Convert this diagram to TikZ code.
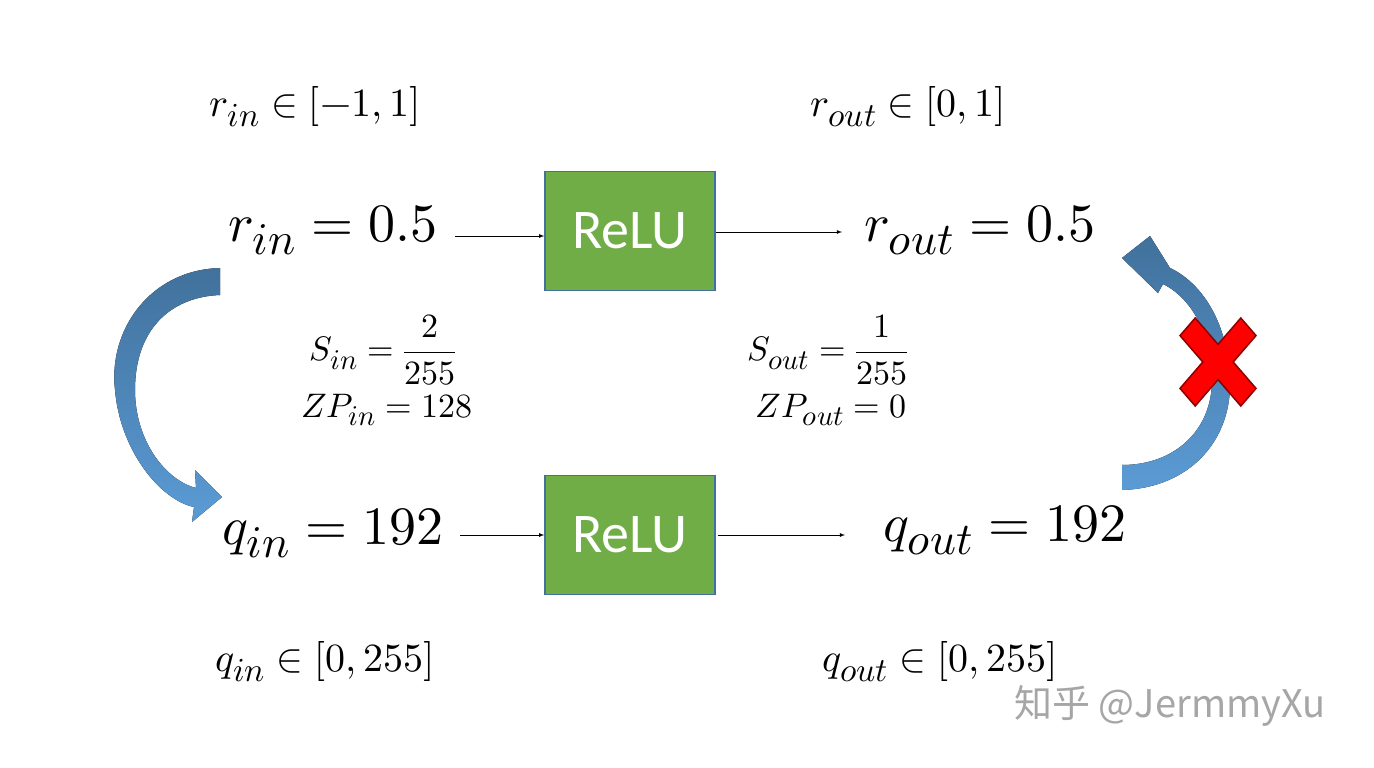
\documentclass[tikz,border=0pt]{standalone}
\usepackage{fontspec}
\usepackage{unicode-math}
\newfontfamily\relufont{Carlito}
\newfontfamily\cjkfont{Noto Sans CJK SC}
\newcommand{\sbx}[1]{_{\scalebox{1.2}{$\scriptstyle #1$}}}
\begin{document}
\begin{tikzpicture}[x=1pt,y=-1pt,
  big/.style={font=\fontsize{54}{60}\selectfont},
  mid/.style={font=\fontsize{40}{44}\selectfont},
  sm/.style={font=\fontsize{34}{38}\selectfont, align=center},
  box/.style={draw={rgb,255:red,65;green,113;blue,156}, line width=1.5pt, fill={rgb,255:red,112;green,173;blue,71}, minimum width=170pt, minimum height=119pt, text=white, font=\relufont\fontsize{56}{60}\selectfont},
  arr/.style={-latex, line width=0.8pt},
  band/.style={top color={rgb,255:red,65;green,113;blue,156}, bottom color={rgb,255:red,91;green,155;blue,213}, draw=none}]
\useasboundingbox[fill=white] (0,0) rectangle (1374,768);
\node[mid] (rinr) at (315,107) {$r\sbx{in}\in[-1,1]$};
\node[mid] (routr) at (908,107) {$r\sbx{out}\in[0,1]$};
\node[big] (rin) at (333,230) {$r\sbx{in}=0.5$};
\node[box] (b1) at (630,231) {ReLU};
\node[big] (rout) at (980,230) {$r\sbx{out}=0.5$};
\draw[arr] (455,236) coordinate (a1) -- (a1 -| b1.west);
\draw[arr] (b1.east)++(0,1) coordinate (a2) -- (842,232) coordinate (a2e);
\node[sm] (sin) at (383,350) {$S\sbx{in}=\displaystyle\frac{2}{255}$};
\node[sm] (zin) at (387,410) {$ZP\sbx{in}=128$};
\node[sm] (sout) at (828,350) {$S\sbx{out}=\displaystyle\frac{1}{255}$};
\node[sm] (zout) at (831,410) {$ZP\sbx{out}=0$};
\node[big] (qin) at (333,533) {$q\sbx{in}=192$};
\node[box] (b2) at (630,535) {ReLU};
\node[big] (qout) at (1005,530) {$q\sbx{out}=192$};
\draw[arr] (460,535) coordinate (a3) -- (a3 -| b2.west);
\draw[arr] (b2.east)++(2,0) coordinate (a4) -- (845,535) coordinate (a4e);
\node[mid] (qinr) at (325,662) {$q\sbx{in}\in[0,255]$};
\node[mid] (qoutr) at (940,662) {$q\sbx{out}\in[0,255]$};
\node[text=black!35, font=\cjkfont\fontsize{38}{42}\selectfont] (wm) at (1170,706) {知乎 @JermmyXu};
\fill[band] (220,268) .. controls (150,270) and (108,330) .. (115,390)
  .. controls (120,450) and (160,500) .. (194,507) -- (192,522) -- (222,497) -- (195,470) -- (196,488)
  .. controls (165,480) and (135,440) .. (135,390) .. controls (135,330) and (170,297) .. (220,295) -- cycle;
\fill[band] (1122,490) .. controls (1190,488) and (1232,440) .. (1230,380)
  .. controls (1228,320) and (1200,282) .. (1170,268) -- (1150,236) -- (1122,258) -- (1158,293) -- (1163,284)
  .. controls (1195,300) and (1212,340) .. (1212,380) .. controls (1212,430) and (1175,465) .. (1122,465) -- cycle;
\begin{scope}[shift={(1218,362)}, x=38pt, y=-44pt]
\draw[fill=red, draw=red!55!black, line width=1.5pt] (-1,-0.6) -- (-0.6,-1) -- (0,-0.4) -- (0.6,-1) -- (1,-0.6) -- (0.4,0) -- (1,0.6) -- (0.6,1) -- (0,0.4) -- (-0.6,1) -- (-1,0.6) -- (-0.4,0) -- cycle;
\end{scope}
\end{tikzpicture}
\end{document}
